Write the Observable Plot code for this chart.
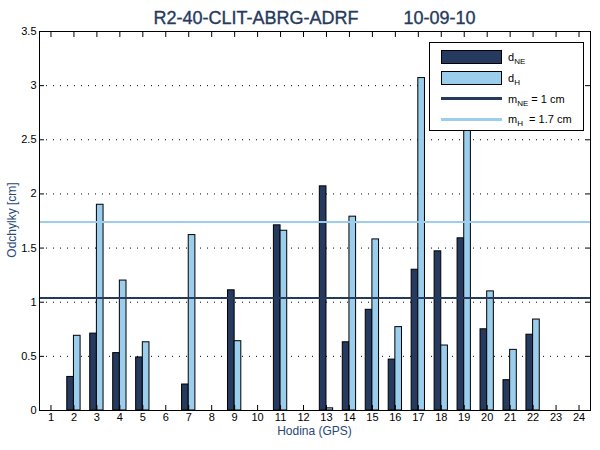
<!DOCTYPE html>
<html>
<head>
<meta charset="utf-8">
<script src="https://cdn.jsdelivr.net/npm/d3@7"></script>
<script src="https://cdn.jsdelivr.net/npm/@observablehq/plot@0.6"></script>
<style>
  body { margin: 0; background: #fff; font-family: "Liberation Sans", Arial, Helvetica, sans-serif; }
  #wrap { position: relative; width: 600px; height: 450px; overflow: hidden; }
  #title { position: absolute; left: 39px; width: 551px; top: 7px; text-align: center;
           font-size: 18px; font-weight: normal; line-height: 22px; color: #253a5e; white-space: pre;
           -webkit-text-stroke: 0.35px #253a5e; }
  .axis-label { position: absolute; font-size: 12px; color: #284878; white-space: nowrap; }
  #xlabel { left: 39px; width: 551px; top: 424px; text-align: center; line-height: 14px; }
  #ylabel { left: 12px; top: 220px; transform: translate(-50%, -50%) rotate(-90deg); line-height: 14px; }
  #legend { position: absolute; left: 429px; top: 42px; width: 155px; height: 89px;
            border: 1px solid #000; background: #fff; padding-top: 4px; box-sizing: border-box; }
  .row { display: flex; align-items: center; height: 20.7px; }
  .sw { margin-left: 11px; width: 61px; box-sizing: border-box; }
  .sw.box { height: 14px; border: 1px solid #000; }
  .sw.line { height: 2.5px; }
  .txt { margin-left: 6px; font-size: 11px; white-space: pre; color: #000; }
  .txt sub { font-size: 8px; vertical-align: -3px; line-height: 0; }
</style>
</head>
<body>
<div id="wrap">
  <div id="title"></div>
  <div id="chart"></div>
  <div id="legend"></div>
  <div id="xlabel" class="axis-label"></div>
  <div id="ylabel" class="axis-label"></div>
</div>
<script>
// Hourly deviations (cm); null = no solution for that hour
const hours = d3.range(1, 25);
const dNE = [null, 0.31, 0.71, 0.53, 0.49, null, 0.24, null, 1.11, null, 1.71, null,
             2.07, 0.63, 0.93, 0.47, 1.30, 1.47, 1.59, 0.75, 0.28, 0.70, null, null];
const dH  = [null, 0.69, 1.90, 1.20, 0.63, null, 1.62, null, 0.64, null, 1.66, null,
             0.02, 1.79, 1.58, 0.77, 3.07, 0.60, 3.00, 1.10, 0.56, 0.84, null, null];

// Overall mean deviations (cm)
const mNE = 1.04;
const mH = 1.74;

const yTicks = [0, 0.5, 1, 1.5, 2, 2.5, 3, 3.5];
const gridTicks = yTicks.filter(v => v > 0 && v < 3.5);

const titleText = "R2-40-CLIT-ABRG-ADRF         10-09-10";
const xLabel = "Hodina (GPS)";
const yLabel = "Odchylky [cm]";

const NAVY = "#253a5e";
const LIGHT = "#9bcdec";
const BAR = 0.29; // half of a grouped pair, in hours

const rows = hours.map((hour, i) => ({hour, ne: dNE[i], h: dH[i]}));
const fmt = d3.format(".1~f");

const chart = Plot.plot({
  width: 600,
  height: 450,
  marginLeft: 39,
  marginRight: 10,
  marginTop: 31,
  marginBottom: 40,
  style: {fontFamily: '"Liberation Sans", Arial, Helvetica, sans-serif', fontSize: "11px", color: "#000", background: "#fff"},
  x: {domain: [0.5, 24.5]},
  y: {domain: [0, 3.5]},
  marks: [
    Plot.ruleY(gridTicks, {stroke: "#000", strokeWidth: 1, strokeDasharray: "1,6"}),
    Plot.rect(rows.filter(d => d.ne != null), {
      x1: d => d.hour - BAR, x2: "hour", y1: 0, y2: "ne",
      fill: NAVY, stroke: "#000", strokeWidth: 1
    }),
    Plot.rect(rows.filter(d => d.h != null), {
      x1: "hour", x2: d => d.hour + BAR, y1: 0, y2: "h",
      fill: LIGHT, stroke: "#000", strokeWidth: 1
    }),
    Plot.ruleY([mNE], {stroke: NAVY, strokeWidth: 2}),
    Plot.ruleY([mH], {stroke: LIGHT, strokeWidth: 2}),
    Plot.frame({stroke: "#000"}),
    Plot.axisX(hours, {anchor: "bottom", tickSize: -5, tickPadding: 8, label: null, tickFormat: d => String(d)}),
    Plot.axisX(hours, {anchor: "top", tickSize: -5, label: null, tickFormat: () => ""}),
    Plot.axisY(yTicks, {anchor: "left", tickSize: -5, tickPadding: 8, label: null, tickFormat: d => String(d)}),
    Plot.axisY(yTicks, {anchor: "right", tickSize: -5, label: null, tickFormat: () => ""})
  ]
});
document.getElementById("chart").appendChild(chart);

document.getElementById("title").textContent = titleText;
document.getElementById("xlabel").textContent = xLabel;
document.getElementById("ylabel").textContent = yLabel;

// Legend: bar series and the two mean lines
const legendItems = [
  {kind: "box", color: NAVY, html: "d<sub>NE</sub>"},
  {kind: "box", color: LIGHT, html: "d<sub>H</sub>"},
  {kind: "line", color: NAVY, html: `m<sub>NE</sub> = ${fmt(mNE)} cm`},
  {kind: "line", color: LIGHT, html: `m<sub>H</sub>  = ${fmt(mH)} cm`}
];
const legend = document.getElementById("legend");
for (const it of legendItems) {
  const row = document.createElement("div");
  row.className = "row";
  const sw = document.createElement("div");
  sw.className = "sw " + it.kind;
  sw.style.background = it.color;
  const txt = document.createElement("span");
  txt.className = "txt";
  txt.innerHTML = it.html;
  row.appendChild(sw);
  row.appendChild(txt);
  legend.appendChild(row);
}
</script>
</body>
</html>
